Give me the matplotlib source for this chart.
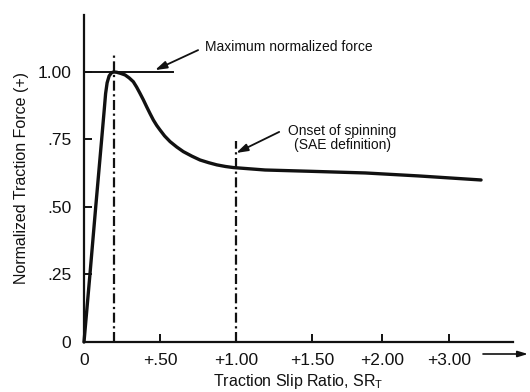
import matplotlib
matplotlib.use("Agg")
import matplotlib.pyplot as plt

plt.rcParams['font.family'] = ['Liberation Sans', 'DejaVu Sans']

# Curve (axis units: slip-ratio position, normalized force)
slip = [0.0, 0.039, 0.077, 0.116, 0.133, 0.142, 0.152, 0.165, 0.18, 0.195,
        0.215, 0.24, 0.27, 0.297, 0.324, 0.346, 0.368, 0.39, 0.412, 0.434,
        0.456, 0.478, 0.50, 0.53, 0.566, 0.61, 0.653, 0.71, 0.763, 0.82,
        0.873, 0.93, 0.982, 1.19, 1.50, 1.85, 2.20, 2.61]
force = [0.0, 0.25, 0.50, 0.75, 0.86, 0.92, 0.96, 0.985, 0.997, 1.0,
         0.999, 0.995, 0.989, 0.978, 0.964, 0.944, 0.921, 0.897, 0.871, 0.846,
         0.822, 0.802, 0.785, 0.763, 0.742, 0.722, 0.705, 0.688, 0.674, 0.664,
         0.656, 0.650, 0.646, 0.637, 0.632, 0.626, 0.615, 0.60]

peak_slip = 0.195
onset_slip = 1.0
max_line_end = 0.585

xtick_pos = [0.0, 0.5, 1.0, 1.5, 1.96, 2.4]
xtick_labels = ['0', '+.50', '+1.00', '+1.50', '+2.00', '+3.00']
ytick_pos = [0.0, 0.25, 0.50, 0.75, 1.00]
ytick_labels = ['0', '.25', '.50', '.75', '1.00']

W, H = 530, 392
fig = plt.figure(figsize=(W / 100, H / 100), dpi=100)
ax = fig.add_axes([84 / W, 1 - 342 / H, (513 - 84) / W, (342 - 15) / H])
ax.set_xlim(0, 2.82)
ax.set_ylim(0, 1.211)

for s in ['top', 'right']:
    ax.spines[s].set_visible(False)
for s in ['left', 'bottom']:
    ax.spines[s].set_linewidth(1.6)
    ax.spines[s].set_color('#111111')

ax.plot(slip, force, color='#111111', lw=2.4, solid_capstyle='round',
        solid_joinstyle='round', clip_on=False)

# horizontal max line
ax.plot([0, max_line_end], [1.0, 1.0], color='#111111', lw=1.4)
# dash-dot verticals
dd = (0, (4.5, 1.6, 1.0, 1.6))
ax.plot([peak_slip, peak_slip], [0, 1.074], color='#111111', lw=1.6, linestyle=dd)
ax.plot([onset_slip, onset_slip], [0, 0.745], color='#111111', lw=1.6, linestyle=dd)

ax.set_xticks(xtick_pos)
ax.set_xticklabels(xtick_labels)
ax.set_yticks(ytick_pos)
ax.set_yticklabels(ytick_labels)
ax.tick_params(axis='both', direction='in', length=6, width=1.4, colors='#111111',
               labelsize=12.5)
ax.tick_params(axis='x', pad=8)
ax.tick_params(axis='y', pad=9)

ax.set_xlabel('Traction Slip Ratio, SR$_\\mathregular{T}$', fontsize=11.5, labelpad=3,
              color='#111111')
ax.set_ylabel('Normalized Traction Force (+)', fontsize=11.5, labelpad=6,
              color='#111111')

arrow_kw = dict(arrowstyle='-|>,head_length=0.7,head_width=0.22', color='#111111',
                lw=1.3, shrinkA=0, shrinkB=0)
ax.annotate('', xy=(0.467, 1.007), xytext=(0.75, 1.081), arrowprops=arrow_kw)
ax.text(0.796, 1.093, 'Maximum normalized force', fontsize=10, va='center',
        ha='left', color='#111111')

ax.annotate('', xy=(1.0, 0.70), xytext=(1.283, 0.778), arrowprops=arrow_kw)
ax.text(1.697, 0.756, 'Onset of spinning\n(SAE definition)', fontsize=10,
        va='center', ha='center', linespacing=0.95, color='#111111')

# arrow at the end of the x axis labels
ax.annotate('', xy=(528 / W, 1 - 354 / H), xytext=(483 / W, 1 - 354 / H),
            xycoords='figure fraction', textcoords='figure fraction',
            arrowprops=dict(arrowstyle='-|>,head_length=0.6,head_width=0.18',
                            color='#111111', lw=1.2, shrinkA=0, shrinkB=0))

fig.savefig('out.png', dpi=100)
